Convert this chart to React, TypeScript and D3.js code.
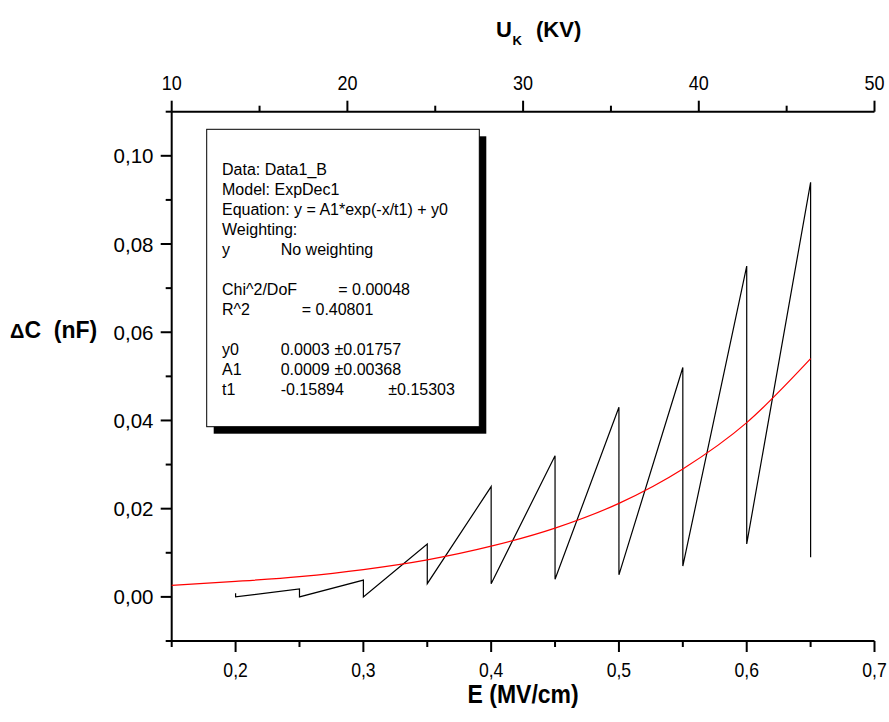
import React from "react";
import * as d3 from "d3";

// Measured data (sawtooth): E field (MV/cm) and ΔC (nF)
const eField = [0.2, 0.2, 0.25, 0.25, 0.3, 0.3, 0.35, 0.35, 0.4, 0.4, 0.45, 0.45, 0.5, 0.5, 0.55, 0.55, 0.6, 0.6, 0.65, 0.65];
const deltaC = [0.0008, 0.0, 0.0018, 0.0, 0.0038, 0.0, 0.012, 0.003, 0.025, 0.003, 0.032, 0.004, 0.043, 0.005, 0.052, 0.007, 0.075, 0.012, 0.094, 0.009];

// Fitted curve
const fitE = [0.15, 0.2, 0.25, 0.3, 0.35, 0.4, 0.45, 0.5, 0.55, 0.6, 0.65];
const fitC = [0.0026, 0.0035, 0.0046, 0.0062, 0.0084, 0.0115, 0.0156, 0.0212, 0.029, 0.0395, 0.054];

// Ticks
const xMajor = [0.2, 0.3, 0.4, 0.5, 0.6, 0.7];
const xMinor = [0.15, 0.25, 0.35, 0.45, 0.55, 0.65];
const topMajor = [10, 20, 30, 40, 50];
const topMinor = [15, 25, 35, 45];
const yMajor = [0, 0.02, 0.04, 0.06, 0.08, 0.1];
const yMinor = [-0.01, 0.01, 0.03, 0.05, 0.07, 0.09, 0.11];

// Fit report text
const reportLines: string[][] = [
  ["Data: Data1_B"],
  ["Model: ExpDec1"],
  ["Equation: y = A1*exp(-x/t1) + y0"],
  ["Weighting:"],
  ["y", "No weighting"],
  [],
  ["Chi^2/DoF", "", "= 0.00048"],
  ["R^2", "= 0.40801"],
  [],
  ["y0", "0.0003", "±0.01757"],
  ["A1", "0.0009", "±0.00368"],
  ["t1", "-0.15894", "", "±0.15303"],
];

const FONT = "'Liberation Sans', Arial, Helvetica, sans-serif";

export default function App() {
  const W = 889, H = 722;
  const left = 171.7, right = 874.5, top = 111.7, bottom = 641;
  const x = d3.scaleLinear().domain([0.15, 0.7]).range([left, right]);
  const xTop = d3.scaleLinear().domain([10, 50]).range([left, right]);
  const y = d3.scaleLinear().domain([-0.01, 0.11]).range([bottom, top]);

  const fmtX = (v: number) => d3.format(".1f")(v).replace(".", ",");
  const fmtY = (v: number) => d3.format(".2f")(v).replace(".", ",");

  const dataLine = d3.line<number>().x((_, i) => x(eField[i])).y((d) => y(d));
  const fitLine = d3.line<number>().x((_, i) => x(fitE[i])).y((d) => y(d)).curve(d3.curveMonotoneX);

  const boxX = 206.7, boxY = 129.3, boxW = 272.6, boxH = 297.4;
  const colX = [222, 280.7, 334.5, 388.3];
  const colXSpecial: Record<string, number[]> = {
    "Chi^2/DoF": [222, 280.7, 338.3],
    "R^2": [222, 301.7],
  };

  return (
    <svg width={W} height={H} style={{ position: "absolute", left: 0, top: 0, background: "#fff" }} fontFamily={FONT}>
      <rect x={0} y={0} width={W} height={H} fill="#fff" />

      {/* Axes lines */}
      <line x1={left} x2={right} y1={bottom} y2={bottom} stroke="#000" strokeWidth={2} />
      <line x1={left} x2={right} y1={top} y2={top} stroke="#000" strokeWidth={2} />
      <line x1={left} x2={left} y1={top} y2={bottom} stroke="#000" strokeWidth={2} />

      {/* Bottom ticks */}
      {xMajor.map((v) => (
        <g key={"bx" + v}>
          <line x1={x(v)} x2={x(v)} y1={bottom} y2={bottom + 11} stroke="#000" strokeWidth={2} />
          <text transform={`translate(${x(v)},${676.5}) scale(0.88,1)`} textAnchor="middle" fontSize={20}>{fmtX(v)}</text>
        </g>
      ))}
      {xMinor.map((v) => (
        <line key={"bxm" + v} x1={x(v)} x2={x(v)} y1={bottom} y2={bottom + 6} stroke="#000" strokeWidth={2} />
      ))}

      {/* Top ticks */}
      {topMajor.map((v) => (
        <g key={"tx" + v}>
          <line x1={xTop(v)} x2={xTop(v)} y1={top} y2={top - 11} stroke="#000" strokeWidth={2} />
          <text transform={`translate(${xTop(v)},${90}) scale(0.9,1)`} textAnchor="middle" fontSize={20}>{v}</text>
        </g>
      ))}
      {topMinor.map((v) => (
        <line key={"txm" + v} x1={xTop(v)} x2={xTop(v)} y1={top} y2={top - 6} stroke="#000" strokeWidth={2} />
      ))}

      {/* Left ticks */}
      {yMajor.map((v) => (
        <g key={"ly" + v}>
          <line x1={left} x2={left - 11} y1={y(v)} y2={y(v)} stroke="#000" strokeWidth={2} />
          <text x={153.5} y={y(v) + 7.5} textAnchor="end" fontSize={20.5}>{fmtY(v)}</text>
        </g>
      ))}
      {yMinor.map((v) => (
        <line key={"lym" + v} x1={left} x2={left - 6} y1={y(v)} y2={y(v)} stroke="#000" strokeWidth={2} />
      ))}

      {/* Axis titles */}
      <text transform={`translate(${(left + right) / 2},703) scale(0.92,1)`} textAnchor="middle" fontSize={25} fontWeight="bold">E (MV/cm)</text>
      <text x={10} y={337.5} fontSize={23} fontWeight="bold">
        <tspan fontSize={20}>Δ</tspan>{"C\u00A0\u00A0(nF)"}
      </text>
      <text x={496} y={37} fontSize={22} fontWeight="bold">U</text>
      <text x={512.5} y={45} fontSize={13} fontWeight="bold">K</text>
      <text x={536} y={37} fontSize={22} fontWeight="bold">(KV)</text>

      {/* Data */}
      <path d={dataLine(deltaC) || ""} fill="none" stroke="#000" strokeWidth={1.2} />
      <path d={fitLine(fitC) || ""} fill="none" stroke="#ff0000" strokeWidth={1.2} />

      {/* Fit report box */}
      <rect x={boxX + 7} y={boxY + 7} width={boxW} height={boxH} fill="#000" />
      <rect x={boxX} y={boxY} width={boxW} height={boxH} fill="#fff" stroke="#000" strokeWidth={1} />
      {reportLines.map((cols, i) => {
        const xs = colXSpecial[cols[0]] || colX;
        return (
          <text key={"r" + i} y={175 + i * 20} fontSize={16}>
            {cols.map((c, j) =>
              c ? (
                <tspan key={j} x={xs[j]}>{c}</tspan>
              ) : null
            )}
          </text>
        );
      })}
    </svg>
  );
}
